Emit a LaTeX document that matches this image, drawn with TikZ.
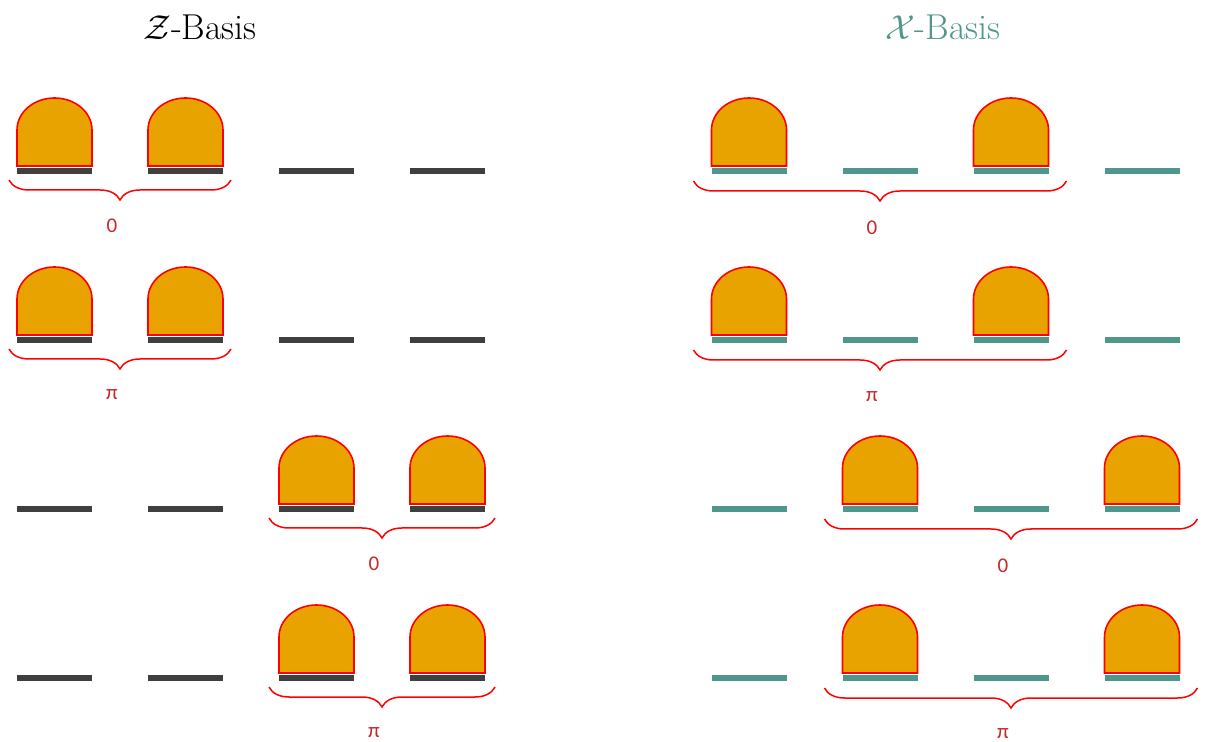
\documentclass[tikz,border=0pt]{standalone}
\usepackage{fontspec}
\newfontfamily\labelfont{Carlito}
\usepackage{tikz}
\usetikzlibrary{
  positioning,
  decorations.pathreplacing
}
\definecolor{detorange}{HTML}{E8A300}
\definecolor{detred}{HTML}{FF0000}
\definecolor{bargray}{HTML}{3F3F3F}
\definecolor{barteal}{HTML}{4F978C}
\definecolor{phasered}{HTML}{C62828}
\tikzset{
  level/.style={
    rectangle, fill=#1, inner sep=0pt, outer sep=0pt,
    minimum width=37.5pt, minimum height=3pt
  },
  level/.default=bargray,
  detector/.style={draw=detred, fill=detorange, line width=0.8pt},
  brace/.style={decorate, decoration={brace, mirror, amplitude=10pt}, draw=detred, line width=0.75pt},
  phase/.style={font=\labelfont\fontsize{10.5}{12}\selectfont, text=phasered, inner sep=1pt, xshift=-4pt},
  basistitle/.style={font=\fontsize{18}{21}\selectfont},
}
\newcommand{\detector}[1]{%
  \draw[detector] ([yshift=1pt]#1.north west) -- ++(0,18pt)
    arc[start angle=180, end angle=0, x radius=18.75pt, y radius=16pt]
    -- ([yshift=1pt]#1.north east) -- cycle;}

\begin{document}
\begin{tikzpicture}[x=0.5pt, y=0.5pt, node distance=28pt]
\useasboundingbox (0,0) rectangle (1210,-742);

\node[basistitle] (ztitle) at (200,-27) {$\mathcal{Z}$-Basis};
\node[basistitle, text=barteal] (xtitle) at (943,-27) {$\mathcal{X}$-Basis};

% levels of each row
\foreach \r/\y in {1/171, 2/340, 3/509, 4/678} {
  \node[level] (z\r1) at (54.5,-\y) {};
  \node[level, right=of z\r1] (z\r2) {};
  \node[level, right=of z\r2] (z\r3) {};
  \node[level, right=of z\r3] (z\r4) {};
  \node[level=barteal] (x\r1) at (749,-\y) {};
  \node[level=barteal, right=of x\r1] (x\r2) {};
  \node[level=barteal, right=of x\r2] (x\r3) {};
  \node[level=barteal, right=of x\r3] (x\r4) {};
}

% detectors
\foreach \d in {z11,z12,z21,z22,z33,z34,z43,z44,x11,x13,x21,x23,x32,x34,x42,x44} {
  \detector{\d}
}

% phases
\draw[brace] ([xshift=-4pt,yshift=-3pt]z11.south west) -- ([xshift=4pt,yshift=-3pt]z12.south east) node[phase, midway, yshift=-23pt] (pz1) {0};
\draw[brace] ([xshift=-4pt,yshift=-3pt]z21.south west) -- ([xshift=4pt,yshift=-3pt]z22.south east) node[phase, midway, yshift=-23pt] (pz2) {π};
\draw[brace] ([xshift=-5pt,yshift=-3pt]z33.south west) -- ([xshift=5pt,yshift=-3pt]z34.south east) node[phase, midway, yshift=-23pt] (pz3) {0};
\draw[brace] ([xshift=-5pt,yshift=-3pt]z43.south west) -- ([xshift=5pt,yshift=-3pt]z44.south east) node[phase, midway, yshift=-23pt] (pz4) {π};
\draw[brace] ([xshift=-9pt,yshift=-3.5pt]x11.south west) -- ([xshift=9pt,yshift=-3.5pt]x13.south east) node[phase, midway, yshift=-23.5pt] (px1) {0};
\draw[brace] ([xshift=-9pt,yshift=-3.5pt]x21.south west) -- ([xshift=9pt,yshift=-3.5pt]x23.south east) node[phase, midway, yshift=-23.5pt] (px2) {π};
\draw[brace] ([xshift=-9pt,yshift=-3.5pt]x32.south west) -- ([xshift=9pt,yshift=-3.5pt]x34.south east) node[phase, midway, yshift=-23.5pt] (px3) {0};
\draw[brace] ([xshift=-9pt,yshift=-3.5pt]x42.south west) -- ([xshift=9pt,yshift=-3.5pt]x44.south east) node[phase, midway, yshift=-23pt] (px4) {π};

\end{tikzpicture}
\end{document}
